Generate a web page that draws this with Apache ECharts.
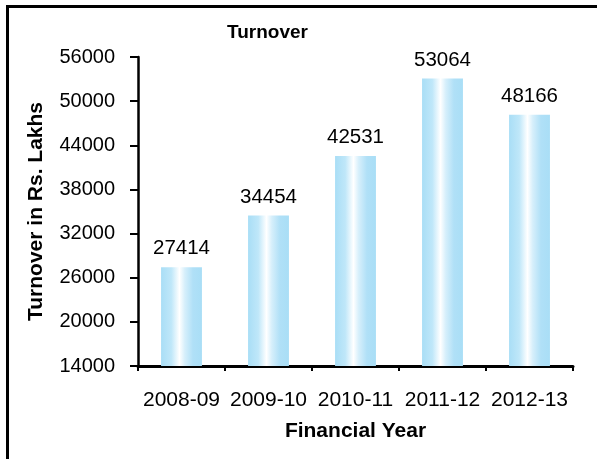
<!DOCTYPE html>
<html>
<head>
<meta charset="utf-8">
<script src="https://cdn.jsdelivr.net/npm/echarts@6/dist/echarts.min.js"></script>
<style>
  html, body { margin: 0; padding: 0; background: #fff; }
  #wrap { position: relative; width: 597px; height: 459px; }
  #chart { position: absolute; left: 0; top: 0; width: 597px; height: 459px; }
  /* frame: only left and top edges are visible in the picture */
  #frame { position: absolute; left: 6px; top: 5px; width: 591px; height: 454px;
           border-left: 3px solid #000; border-top: 3px solid #000; box-sizing: border-box;
           pointer-events: none; }
</style>
</head>
<body>
<div id="wrap">
  <div id="chart"></div>
  <div id="frame"></div>
</div>
<script>
  // data
  var years = ['2008-09', '2009-10', '2010-11', '2011-12', '2012-13'];
  var turnover = [27414, 34454, 42531, 53064, 48166];
  var yMin = 14000, yMax = 56000, yStep = 6000;

  var font = '"Liberation Sans", Arial, sans-serif';

  var chart = echarts.init(document.getElementById('chart'));

  // bar fill: light blue with a white streak a little left of centre
  var barFill = new echarts.graphic.LinearGradient(0, 0, 1, 0, [
    {offset: 0, color: '#a9def6'},
    {offset: 0.25, color: '#bfe7f9'},
    {offset: 0.45, color: '#ffffff'},
    {offset: 0.58, color: '#d6effb'},
    {offset: 0.78, color: '#b0e0f7'},
    {offset: 1, color: '#a9def6'}
  ]);

  chart.setOption({
    animation: false,
    title: {
      text: 'Turnover',
      left: 227,
      top: 23,
      padding: 0,
      textStyle: {fontFamily: font, fontSize: 19, fontWeight: 'bold', color: '#000'}
    },
    grid: {left: 138, right: 24, top: 57, bottom: 93},
    xAxis: {
      type: 'category',
      data: years,
      name: 'Financial Year',
      nameLocation: 'middle',
      nameGap: 55,
      nameTextStyle: {fontFamily: font, fontSize: 21, fontWeight: 'bold', color: '#000'},
      axisLine: {lineStyle: {color: '#000', width: 3}},
      axisTick: {show: true, length: 5, lineStyle: {color: '#000', width: 2}},
      axisLabel: {fontFamily: font, fontSize: 21, color: '#000', margin: 24, interval: 0}
    },
    yAxis: {
      type: 'value',
      min: yMin,
      max: yMax,
      interval: yStep,
      name: 'Turnover in Rs. Lakhs',
      nameLocation: 'middle',
      nameGap: 91,
      nameTextStyle: {fontFamily: font, fontSize: 21, fontWeight: 'bold', color: '#000'},
      axisLine: {show: true, lineStyle: {color: '#000', width: 2.5}},
      axisTick: {show: true, length: 8, lineStyle: {color: '#000', width: 2}},
      axisLabel: {
        fontFamily: font, fontSize: 20, color: '#000', margin: 23,
        formatter: function (v) { return String(v); }
      },
      splitLine: {show: false}
    },
    series: [{
      type: 'bar',
      data: turnover,
      barWidth: '47%',
      itemStyle: {color: barFill},
      label: {
        show: true,
        position: 'top',
        distance: 8,
        fontFamily: font,
        fontSize: 20.5,
        color: '#000'
      }
    }]
  });
</script>
</body>
</html>
